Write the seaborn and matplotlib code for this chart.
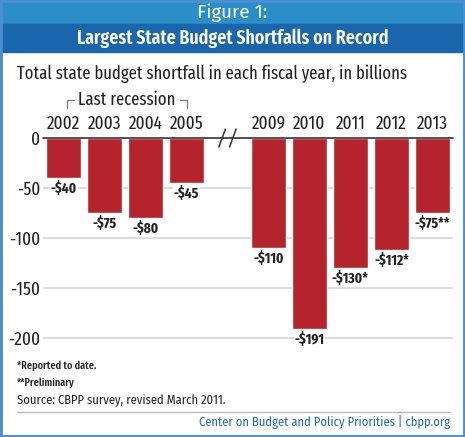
import pandas as pd
import seaborn as sns
import matplotlib.pyplot as plt
from matplotlib.patches import Rectangle
from matplotlib.lines import Line2D

# data (billions of dollars)
years = ['2002', '2003', '2004', '2005', '2009', '2010', '2011', '2012', '2013']
shortfall = [-40, -75, -80, -45, -110, -191, -130, -112, -75]
bar_labels = ['-$40', '-$75', '-$80', '-$45', '-$110', '-$191', '-$130*', '-$112*', '-$75**']
order = ['2002', '2003', '2004', '2005', '', '2009', '2010', '2011', '2012', '2013']
yticks = [0, -50, -100, -150, -200]

XCOND = ['Fira Sans Extra Condensed', 'DejaVu Sans']
COND = ['Fira Sans Condensed', 'DejaVu Sans']
REG = ['Fira Sans', 'DejaVu Sans']
BAR = '#b5242d'
LIGHT_BLUE = '#2b8ec8'
DARK_BLUE = '#1a66ad'
INK = '#222222'

sns.set_theme(style='white')
plt.rcParams['font.family'] = XCOND

df = pd.DataFrame({'year': years, 'shortfall': shortfall})

W, H = 465, 437
fig = plt.figure(figsize=(W / 100, H / 100), dpi=100)

def fx(px):
    return px / W

def fy(py):
    return 1 - py / H

# header bands and frame
fig.patches.append(Rectangle((0, fy(24)), 1, 24 / H, transform=fig.transFigure,
                             color=LIGHT_BLUE, zorder=0))
fig.patches.append(Rectangle((0, fy(52)), 1, 28 / H, transform=fig.transFigure,
                             color=DARK_BLUE, zorder=0))
fig.patches.append(Rectangle((0, 0), 1, 1, transform=fig.transFigure, fill=False,
                             edgecolor='#4b8fd0', lw=3.5, zorder=5))
fig.text(0.5, fy(13), 'Figure 1:', color='white', fontsize=13.5, family=REG,
         ha='center', va='center')
fig.text(0.5, fy(38), 'Largest State Budget Shortfalls on Record', color='white',
         fontsize=14, fontweight=600, ha='center', va='center')
fig.text(fx(17), fy(74), 'Total state budget shortfall in each fiscal year, in billions',
         fontsize=13, ha='left', va='center', color=INK)

# chart area: 1 px per billion, zero line at y=138 px
top_px, ylo = 138, -212
ax = fig.add_axes([fx(43), fy(top_px - ylo), fx(410), -ylo / H])
sns.barplot(data=df, x='year', y='shortfall', order=order, color=BAR,
            saturation=1, width=0.85, ax=ax, zorder=3)
ax.set_ylim(ylo, 0)
ax.set_xlim(-0.5, len(order) - 0.5)
for c in ax.containers:
    ax.bar_label(c, labels=bar_labels, padding=2, fontsize=10.5, fontweight='bold',
                 color=INK, bbox=dict(facecolor='white', edgecolor='none', pad=0.6))

ax.set_yticks(yticks)
ax.set_yticklabels([str(t) for t in yticks], fontsize=13.5, color=INK)
ax.yaxis.grid(True, color='#dcdcdc', lw=1.5)
ax.set_axisbelow(True)
ax.xaxis.tick_top()
ax.set_xticks(range(len(order)))
ax.set_xticklabels(order, fontsize=13.5, color=INK)
ax.tick_params(axis='both', length=0)
ax.tick_params(axis='x', pad=4)
ax.tick_params(axis='y', pad=2)
ax.set_xlabel('')
ax.set_ylabel('')
for s in ax.spines.values():
    s.set_visible(False)
ax.axhline(0, color='#444444', lw=1.3, zorder=4, clip_on=False)

# axis break marks between 2005 and 2009
gap = order.index('')
for dx in (-0.13, 0.13):
    ax.plot([gap + dx - 0.08, gap + dx + 0.08], [-9, 9], color='#333333', lw=1.1,
            clip_on=False, zorder=5)

# "Last recession" bracket over 2002-2005
ax.text(1.55, 38, 'Last recession', fontsize=13, ha='center', va='center',
        color=INK, clip_on=False)
ax.plot([0.08, 0.08, 0.26], [30, 38, 38], color='#777777', lw=0.9, clip_on=False)
ax.plot([2.84, 3.0, 3.0], [38, 38, 30], color='#777777', lw=0.9, clip_on=False)

# footnotes and credit line
fig.text(fx(17), fy(366), '*Reported to date.', fontsize=8, fontweight=500,
         ha='left', va='center', color=INK)
fig.text(fx(17), fy(383), '**Preliminary', fontsize=8, fontweight=500,
         ha='left', va='center', color=INK)
fig.text(fx(17), fy(400), 'Source: CBPP survey, revised March 2011.', fontsize=9,
         family=COND, ha='left', va='center', color=INK)
fig.lines.append(Line2D([fx(17), fx(450)], [fy(412), fy(412)], transform=fig.transFigure,
                        color='#bbbbbb', lw=1))
fig.text(fx(450), fy(422), 'Center on Budget and Policy Priorities | cbpp.org',
         fontsize=9, family=COND, ha='right', va='center', color='#1f6db3')

fig.savefig('out.png', dpi=100)
